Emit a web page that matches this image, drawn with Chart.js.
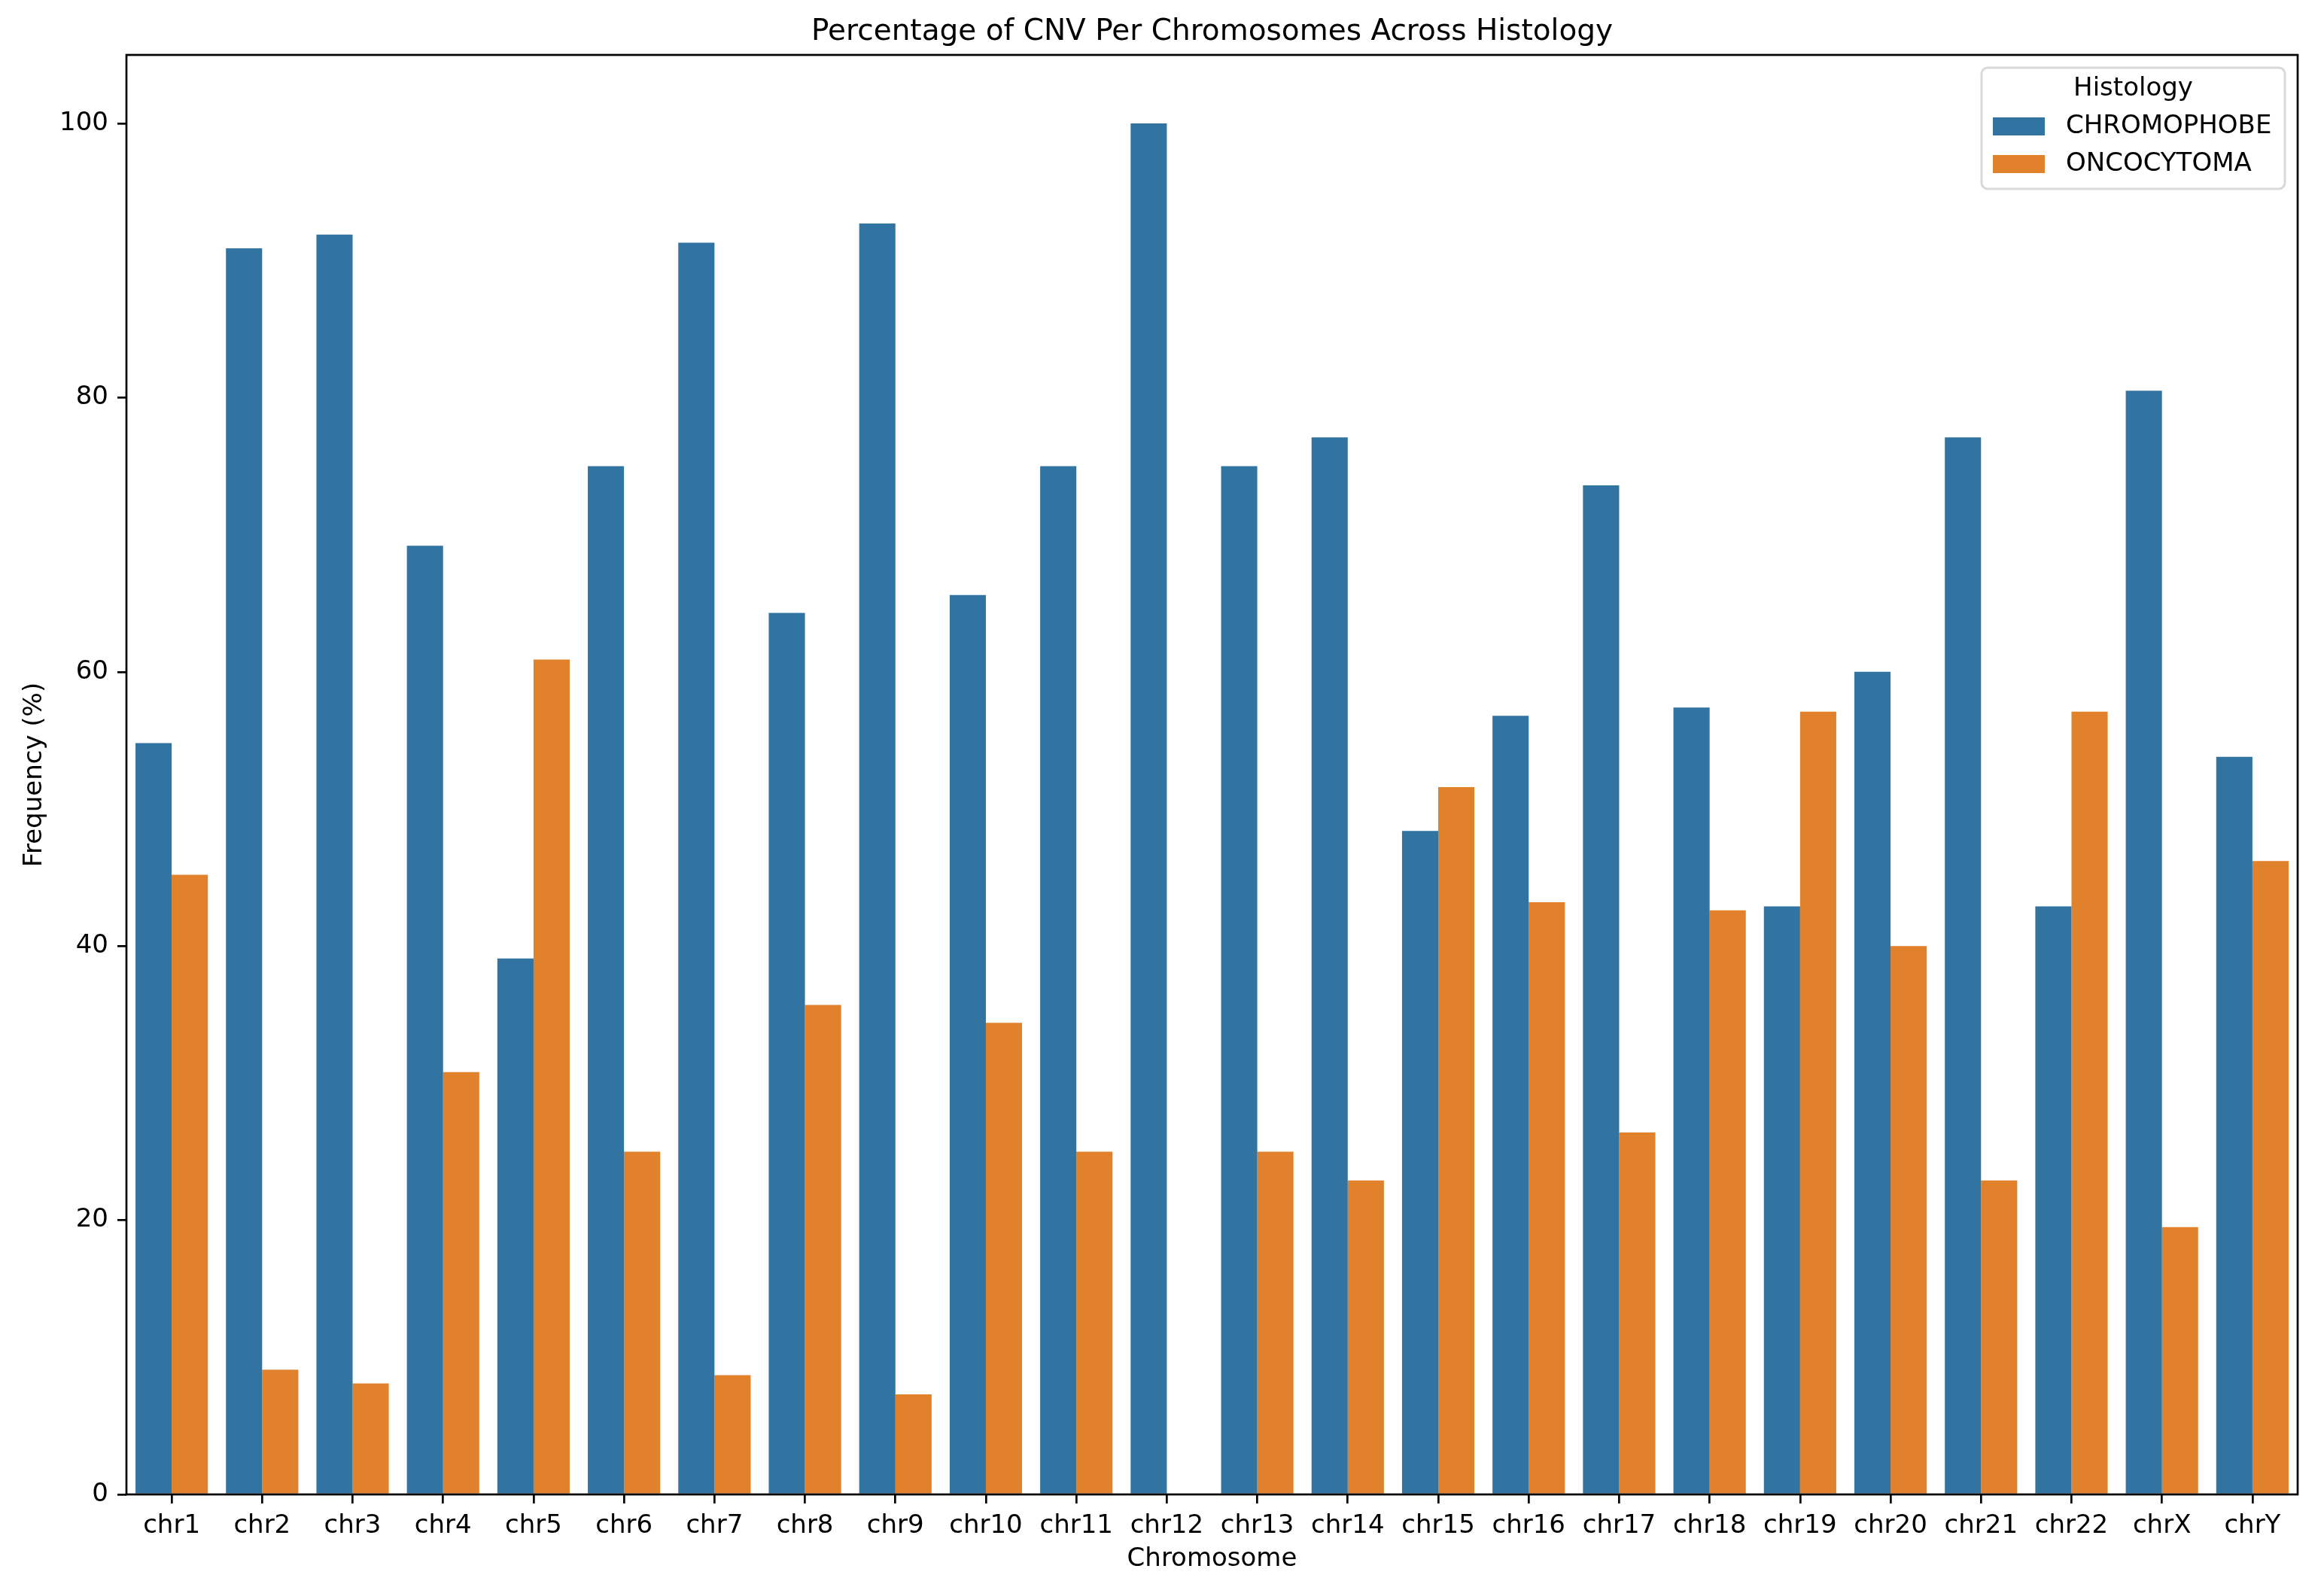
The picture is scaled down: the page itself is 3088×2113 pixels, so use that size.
<!DOCTYPE html>
<html><head><meta charset="utf-8">
<script src="https://cdn.jsdelivr.net/npm/chart.js@4.4.1/dist/chart.umd.min.js"></script>
<style>html,body{margin:0;padding:0;background:#fff;} canvas{display:block;}</style>
</head><body>
<canvas id="c" width="3088" height="2113" style="width:3088px;height:2113px"></canvas>
<script>
const categories = ['chr1','chr2','chr3','chr4','chr5','chr6','chr7','chr8','chr9','chr10','chr11','chr12','chr13','chr14','chr15','chr16','chr17','chr18','chr19','chr20','chr21','chr22','chrX','chrY'];
const chromophobe = [54.8, 90.9, 91.9, 69.2, 39.1, 75.0, 91.3, 64.3, 92.7, 65.6, 75.0, 100.0, 75.0, 77.1, 48.4, 56.8, 73.6, 57.4, 42.9, 60.0, 77.1, 42.9, 80.5, 53.8];
const oncocytoma  = [45.2, 9.1, 8.1, 30.8, 60.9, 25.0, 8.7, 35.7, 7.3, 34.4, 25.0, 0.0, 25.0, 22.9, 51.6, 43.2, 26.4, 42.6, 57.1, 40.0, 22.9, 57.1, 19.5, 46.2];
const seriesNames = ['CHROMOPHOBE', 'ONCOCYTOMA'];
const yTicks = [0, 20, 40, 60, 80, 100];
const legendTitle = 'Histology';
const chartTitle = 'Percentage of CNV Per Chromosomes Across Histology';
const xTitle = 'Chromosome';
const yTitle = 'Frequency (%)';

const FAMILY = "'DejaVu Sans', sans-serif";
const COLORS = ['#3274a1', '#e1812c'];

const framePlugin = {
  id: 'frame',
  afterDatasetsDraw(chart) {
    const {ctx, chartArea: a} = chart;
    ctx.save();
    ctx.strokeStyle = '#000';
    ctx.lineWidth = 2.7;
    ctx.strokeRect(a.left, a.top, a.right - a.left, a.bottom - a.top);
    ctx.restore();
  }
};

const titlePlugin = {
  id: 'axesTitle',
  afterDraw(chart) {
    const {ctx, chartArea: a} = chart;
    ctx.save();
    ctx.fillStyle = '#000';
    ctx.font = '39px ' + FAMILY;
    ctx.textAlign = 'center';
    ctx.textBaseline = 'alphabetic';
    ctx.fillText(chartTitle, (a.left + a.right) / 2, a.top - 20);
    ctx.restore();
  }
};

const legendPlugin = {
  id: 'mplLegend',
  afterDraw(chart) {
    const {ctx, chartArea: a} = chart;
    const boxW = 403, boxH = 161;
    const x1 = a.right - 17 - boxW, y1 = a.top + 17;
    ctx.save();
    ctx.beginPath();
    ctx.roundRect(x1, y1, boxW, boxH, 8);
    ctx.fillStyle = 'rgba(255,255,255,0.8)';
    ctx.fill();
    ctx.strokeStyle = '#d9d9d9';
    ctx.lineWidth = 3;
    ctx.stroke();
    ctx.fillStyle = '#000';
    ctx.font = '34px ' + FAMILY;
    ctx.textAlign = 'center';
    ctx.textBaseline = 'middle';
    ctx.fillText(legendTitle, x1 + boxW / 2, y1 + 28);
    chart.data.datasets.forEach((ds, i) => {
      const y = y1 + 78 + i * 50;
      ctx.fillStyle = ds.backgroundColor;
      ctx.fillRect(x1 + 15, y - 12, 69, 24);
      ctx.fillStyle = '#000';
      ctx.textAlign = 'left';
      ctx.fillText(ds.label, x1 + 112, y);
    });
    ctx.restore();
  }
};

const tickGrid = {display: true, drawOnChartArea: false, drawTicks: true, tickLength: 12, offset: false, color: '#000', lineWidth: 2.7};

new Chart(document.getElementById('c'), {
  type: 'bar',
  data: {
    labels: categories,
    datasets: [
      {label: seriesNames[0], data: chromophobe, backgroundColor: COLORS[0], borderWidth: 0, barPercentage: 1.0, categoryPercentage: 0.8},
      {label: seriesNames[1], data: oncocytoma, backgroundColor: COLORS[1], borderWidth: 0, barPercentage: 1.0, categoryPercentage: 0.8}
    ]
  },
  options: {
    responsive: false,
    devicePixelRatio: 1,
    animation: false,
    layout: {padding: {left: 0, right: 35, top: 73, bottom: 0}},
    plugins: {
      legend: {display: false},
      tooltip: {enabled: false},
      title: {display: false}
    },
    scales: {
      x: {
        type: 'category', offset: true,
        grid: tickGrid,
        border: {display: false},
        ticks: {color: '#000', font: {family: FAMILY, size: 34}, padding: 10, maxRotation: 0, autoSkip: false},
        title: {display: true, text: xTitle, color: '#000', font: {family: FAMILY, size: 34, lineHeight: 1.2}, padding: {top: 0, bottom: 20}},
        afterFit(s) { s.height = 127; }
      },
      y: {
        min: 0, max: 105,
        grid: tickGrid,
        border: {display: false},
        ticks: {stepSize: 20, includeBounds: false, color: '#000', font: {family: FAMILY, size: 34}, padding: 12},
        title: {display: true, text: yTitle, color: '#000', font: {family: FAMILY, size: 34, lineHeight: 1.2}, padding: {top: 26, bottom: 0}},
        afterBuildTicks(s) { s.ticks = yTicks.map(v => ({value: v})); },
        afterFit(s) { s.width = 168; }
      }
    }
  },
  plugins: [framePlugin, titlePlugin, legendPlugin]
});
</script>
</body></html>
